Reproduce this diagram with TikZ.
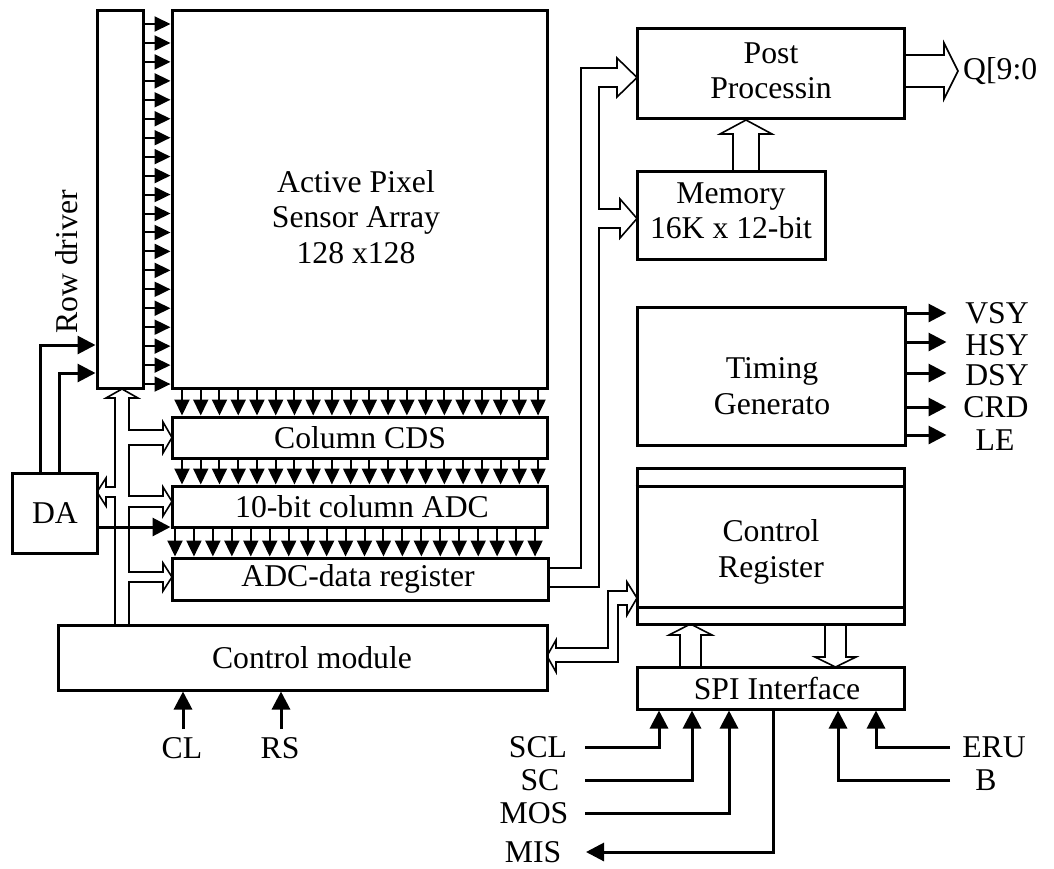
\documentclass[tikz,border=0pt]{standalone}
\usepackage{fontspec}
\setmainfont{Liberation Serif}
\usetikzlibrary{arrows.meta}
\newcommand\figfont{\fontsize{31.7pt}{35.5pt}\selectfont}
\begin{document}
\begin{tikzpicture}[x=1pt,y=-1pt,
  box/.style={draw, line width=3pt, inner sep=0pt},
  txt/.style={inner sep=0pt, align=center, font=\figfont},
  sarr/.style={line width=2pt, -{Triangle[length=16pt,width=15pt]}},
  sig/.style={line width=3pt, -{Triangle[length=18pt,width=18pt]}},
  bus/.style={line width=1.6pt, line join=miter}]
\useasboundingbox (0,0) rectangle (1054,868);
% boxes
\node[box, minimum width=46pt, minimum height=378pt] (rd) at (120,199) {};
\node[box, minimum width=375pt, minimum height=378pt] (apsa) at (359.5,199) {};
\node[box, minimum width=375pt, minimum height=41pt] (cds) at (359.5,437.5) {};
\node[box, minimum width=375pt, minimum height=41pt] (adc) at (359.5,506.5) {};
\node[box, minimum width=376pt, minimum height=42pt] (dreg) at (360,579) {};
\node[box, minimum width=489pt, minimum height=65pt] (ctrl) at (302.5,657.5) {};
\node[box, minimum width=85pt, minimum height=80pt] (da) at (54.5,513) {};
\node[box, minimum width=267pt, minimum height=90pt] (post) at (770.5,73) {};
\node[box, minimum width=188pt, minimum height=88pt] (mem) at (731,215) {};
\node[box, minimum width=268pt, minimum height=138pt] (tim) at (771,376) {};
\node[box, minimum width=267pt, minimum height=156pt] (creg) at (770.5,546) {};
\node[box, minimum width=267pt, minimum height=42pt] (spi) at (770.5,688) {};
\draw[line width=3pt] (creg.west |- 0,486) -- (creg.east |- 0,486);
\draw[line width=3pt] (creg.west |- 0,607) -- (creg.east |- 0,607);
% texts
\node[txt, rotate=90] (rdt) at (67,262) {Row driver};
\node[txt] (apsat) at (356,217) {Active Pixel\\Sensor Array\\128 x128};
\node[txt] (cdst) at (360,437.5) {Column CDS};
\node[txt] (adct) at (362,506.5) {10-bit column ADC};
\node[txt] (dregt) at (358,579) {ADC-data register};
\node[txt] (ctrlt) at (312,657.5) {Control module};
\node[txt] (dat) at (55,513) {DA};
\node[txt] (postt) at (771,71) {Post\\Processin};
\node[txt] (memt) at (731,211) {Memory\\16K x 12-bit};
\node[txt] (timt) at (772,386) {Timing\\Generato};
\node[txt] (cregt) at (771,552) {Control\\Register};
\node[txt] (spit) at (777,688) {SPI Interface};
\node[txt, anchor=west] (q) at (963,71) {Q[9:0};
\node[txt] (vsy) at (997,313) {VSY};
\node[txt] (hsy) at (997,345) {HSY};
\node[txt] (dsy) at (997,375) {DSY};
\node[txt] (crd) at (996,407) {CRD};
\node[txt] (le) at (995,440) {LE};
\node[txt] (cl) at (182,748) {CL};
\node[txt] (rs) at (280,748) {RS};
\node[txt] (scl) at (538,747) {SCL};
\node[txt] (sc) at (540,780) {SC};
\node[txt] (mos) at (534,813) {MOS};
\node[txt] (mis) at (533,852) {MIS};
\node[txt] (eru) at (994,747) {ERU};
\node[txt] (b) at (986,780) {B};
% row driver arrows
\foreach \i in {0,...,19}{
  \pgfmathsetmacro\yy{24+\i*18.95}
  \draw[sarr] (rd.east |- 0,\yy) -- (apsa.west |- 0,\yy);
}
% column arrows
\foreach \i in {0,...,19}{
  \pgfmathsetmacro\xx{182+\i*18.74}
  \draw[sarr] (apsa.south -| \xx,0) -- (cds.north -| \xx,0);
  \draw[sarr] (cds.south -| \xx,0) -- (adc.north -| \xx,0);
  \pgfmathsetmacro\xb{175+\i*18.95}
  \draw[sarr] (adc.south -| \xb,0) -- (dreg.north -| \xb,0);
}
% DA signals
\draw[sig] (da.north -| 40,0) |- (rd.west |- 0,345);
\draw[sig] (da.north -| 59,0) |- (rd.west |- 0,373);
\draw[sig] (da.east |- 0,527) -- (adc.west |- 0,527);
% CL RS
\draw[sig] (cl.north -| 183,0) ++(0,-8) -- (ctrl.south -| 183,0);
\draw[sig] (rs.north -| 281,0) ++(0,-8) -- (ctrl.south -| 281,0);
% timing outputs
\foreach \y in {313,342,373,407,435}{
  \draw[sig] (tim.east |- 0,\y) -- ++(40,0);
}
% SPI signals
\coordinate (sclin) at (585,747);
\coordinate (scin) at (585,780);
\coordinate (mosin) at (585,813);
\coordinate (misout) at (586,852);
\coordinate (eruin) at (950,747);
\coordinate (bin) at (950,780);
\draw[sig] (sclin) -| (spi.south -| 659,0);
\draw[sig] (scin) -| (spi.south -| 692,0);
\draw[sig] (mosin) -| (spi.south -| 729,0);
\draw[sig] (spi.south -| 773,0) |- (misout);
\draw[sig] (eruin) -| (spi.south -| 876,0);
\draw[sig] (bin) -| (spi.south -| 838,0);
% left control bus
\draw[bus] (115,625) -- (115,497) -- (106,497) -- (106,506) -- (97,492) -- (106,478) -- (106,487) -- (115,487)
  -- (115,398) -- (106,398) -- (122,389) -- (138,398) -- (129,398)
  -- (129,430) -- (163,430) -- (163,422) -- (172,437.5) -- (163,453) -- (163,445) -- (129,445)
  -- (129,496) -- (163,496) -- (163,487) -- (172,501.5) -- (163,516) -- (163,507) -- (129,507)
  -- (129,572) -- (163,572) -- (163,563) -- (172,577) -- (163,591) -- (163,582) -- (129,582)
  -- (129,625);
% data bus to post processing and memory
\draw[bus] (548,568) -- (581,568) -- (581,68) -- (617,68) -- (617,58) -- (637,77.5) -- (617,97) -- (617,87)
  -- (599,87) -- (599,209) -- (620,209) -- (620,199) -- (637,218.5) -- (620,238) -- (620,228)
  -- (599,228) -- (599,587) -- (548,587);
% memory to post
\draw[bus] (733,171) -- (733,134) -- (720,134) -- (746,120) -- (772,134) -- (759,134) -- (759,171);
% post to Q
\draw[bus] (904,55) -- (944,55) -- (944,43) -- (958,71) -- (944,99) -- (944,87) -- (904,87);
% control module <-> control register
\draw[bus] (627,591) -- (608,591) -- (608,648) -- (556,648) -- (556,640) -- (547,656) -- (556,672) -- (556,662)
  -- (618,662) -- (618,605) -- (627,605) -- (627,615) -- (637,598) -- (627,582) -- cycle;
% SPI <-> control register
\draw[bus] (680,667) -- (680,635) -- (669,635) -- (690.5,624) -- (712,635) -- (701,635) -- (701,667);
\draw[bus] (825,624) -- (825,657) -- (815,657) -- (835.5,667) -- (856,657) -- (846,657) -- (846,624);
\end{tikzpicture}
\end{document}
